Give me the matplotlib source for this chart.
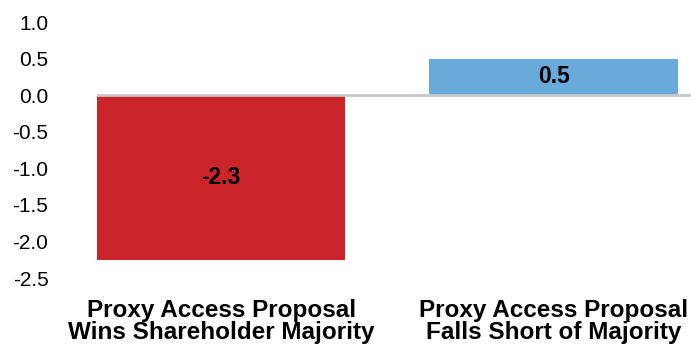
import matplotlib.pyplot as plt

# dados do grafico
categorias = ["Proxy Access Proposal\nWins Shareholder Majority",
              "Proxy Access Proposal\nFalls Short of Majority"]
valores = [-2.25, 0.5]
rotulos = ["-2.3", "0.5"]
cores = ["#CC2529", "#6AAADB"]
yticks = [-2.5, -2.0, -1.5, -1.0, -0.5, 0.0, 0.5, 1.0]

plt.rcParams['font.family'] = ['Liberation Sans', 'DejaVu Sans']

fig = plt.figure(figsize=(6.91, 3.5), dpi=100)
ax = fig.add_axes([97 / 691, 1 - 278 / 350, 1 - 97 / 691, (278 - 22) / 350])

x = list(range(len(valores)))
ax.bar(x, valores, width=0.747, color=cores, zorder=2)
ax.axhline(0, color="#C8C8C8", linewidth=2, zorder=3)

for xi, v, r in zip(x, valores, rotulos):
    ax.text(xi, v / 2, r, ha="center", va="center", fontsize=16.5,
            fontweight="bold", color="black", zorder=4)

ax.set_xlim(-0.3735, 1.413)
ax.set_ylim(-2.5, 1.0)
ax.set_yticks(yticks)
ax.set_yticklabels([f"{t:.1f}" for t in yticks], fontsize=15)
ax.tick_params(axis="y", length=0, pad=35)
ax.set_xticks([])

# rotulos das categorias abaixo do eixo
for xi, c in zip(x, categorias):
    ax.annotate(c, xy=(xi, -2.5), xytext=(0, -15), textcoords="offset points",
                ha="center", va="top", fontsize=17.5, fontweight="bold",
                linespacing=0.95)

for s in ax.spines.values():
    s.set_visible(False)

fig.savefig("out.png", dpi=100)
